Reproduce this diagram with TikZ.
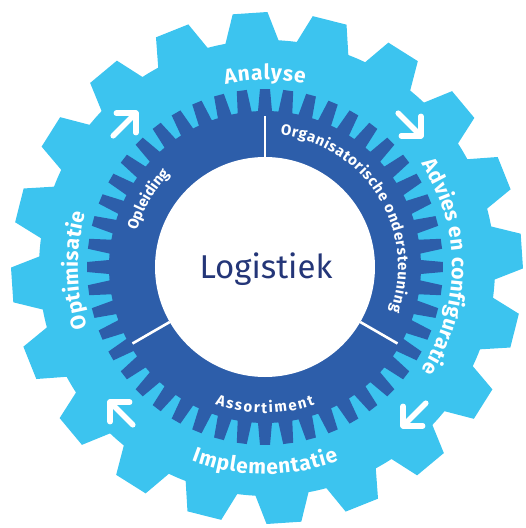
\documentclass[tikz,border=0pt]{standalone}
\usepackage{fontspec}
\setmainfont{Fira Sans}
\usetikzlibrary{decorations.text,calc}
\definecolor{gearlight}{RGB}{60,196,239}
\definecolor{geardark}{RGB}{45,94,170}
\definecolor{navy}{RGB}{36,54,120}
\newcommand{\outerfont}{\fontsize{21}{21}\selectfont\bfseries}
\newcommand{\innerfont}{\fontsize{15}{15}\selectfont\bfseries}
\begin{document}
\begin{tikzpicture}[x=1pt,y=1pt,
  arrowstroke/.style={white, line width=5.5pt, line cap=round, line join=round},
  sepline/.style={white, line width=2.6pt},
  innertext/.style={decorate, decoration={text along path, text align=center, text color=white, text={|\innerfont|#1}}},
  spacedtext/.style n args={3}{decorate, decoration={text effects along path, text={#1}, text align=center,
     text effects/.cd, text along path, characters={text=white, font=#3}, character widths={inner xsep=#2, font=#3}}}]
\useasboundingbox (-265,-261) rectangle (261,267);
% outer light gear
\fill[gearlight, shift={(2pt,-1pt)}] ({3.8-6.7}:228pt)
  \foreach \k in {0,...,19}{
    -- ({3.8+18*\k-6.7}:228pt) -- ({3.8+18*\k-3.9}:256pt) -- ({3.8+18*\k+3.9}:256pt) -- ({3.8+18*\k+6.7}:228pt)
    arc[start angle={3.8+18*\k+6.7}, end angle={3.8+18*\k+18-6.7}, radius=228pt]
  } -- cycle;
% inner dark gear
\fill[geardark] ({90-2.57}:156pt)
  \foreach \k in {0,...,47}{
    -- ({90+7.5*\k-2.57}:156pt) -- ({90+7.5*\k-1.62}:178pt) -- ({90+7.5*\k+1.62}:178pt) -- ({90+7.5*\k+2.57}:156pt)
    arc[start angle={90+7.5*\k+2.57}, end angle={90+7.5*\k+7.5-2.57}, radius=156pt]
  } -- cycle;
% hub
\node[circle, fill=white, minimum size=220pt, inner sep=0pt, outer sep=0pt] (hub) at (0,0) {};
\node[anchor=base, text=navy, font=\fontsize{33}{33}\selectfont, inner sep=0pt] (title) at (1,-11) {Logistiek};
% separators
\coordinate (s1) at (90:151pt);
\coordinate (s2) at (210:153pt);
\coordinate (s3) at (330:153pt);
\draw[sepline] (hub.90) -- (s1);
\draw[sepline] (hub.210) -- (s2);
\draw[sepline] (hub.330) -- (s3);
% arrows
\foreach \cx/\cy/\a [count=\i] in {-140.5/142.5/135, 144.5/142.5/45, 149.5/-147.5/-45, -143.5/-146.5/-135}{
  \coordinate (ac\i) at (\cx,\cy);
  \coordinate (tip\i) at ($(ac\i)+({\a-90}:16pt)$);
  \coordinate (tail\i) at ($(ac\i)+({\a+90}:16pt)$);
  \coordinate (arma\i) at ($(tip\i)+({\a+45}:19.5pt)$);
  \coordinate (armb\i) at ($(tip\i)+({\a+135}:19.5pt)$);
  \draw[arrowstroke] (tail\i) -- (tip\i);
  \draw[arrowstroke] (arma\i) -- (tip\i) -- (armb\i);
}
% outer ring texts
\path[spacedtext={Analyse}{0.4pt}{\outerfont}] (150:187pt) arc[start angle=150, end angle=30, radius=187pt];
\path[spacedtext={Advies en configuratie}{0.1pt}{\outerfont}] (70:187pt) arc[start angle=70, end angle=-70, radius=187pt];
\path[spacedtext={Optimisatie}{0.2pt}{\outerfont}] (251:187pt) arc[start angle=251, end angle=111, radius=187pt];
\path[spacedtext={Implementatie}{0.4pt}{\outerfont}] (200:207pt) arc[start angle=200, end angle=340, radius=207pt];
% inner ring texts
\path[innertext={Opleiding}] (230:133pt) arc[start angle=230, end angle=70, radius=133pt];
\path[spacedtext={Organisatorische ondersteuning}{0.3pt}{\innerfont}] (122:133pt) arc[start angle=122, end angle=-58, radius=133pt];
\path[spacedtext={Assortiment}{0.9pt}{\innerfont}] (190:146pt) arc[start angle=190, end angle=350, radius=146pt];
\end{tikzpicture}
\end{document}
